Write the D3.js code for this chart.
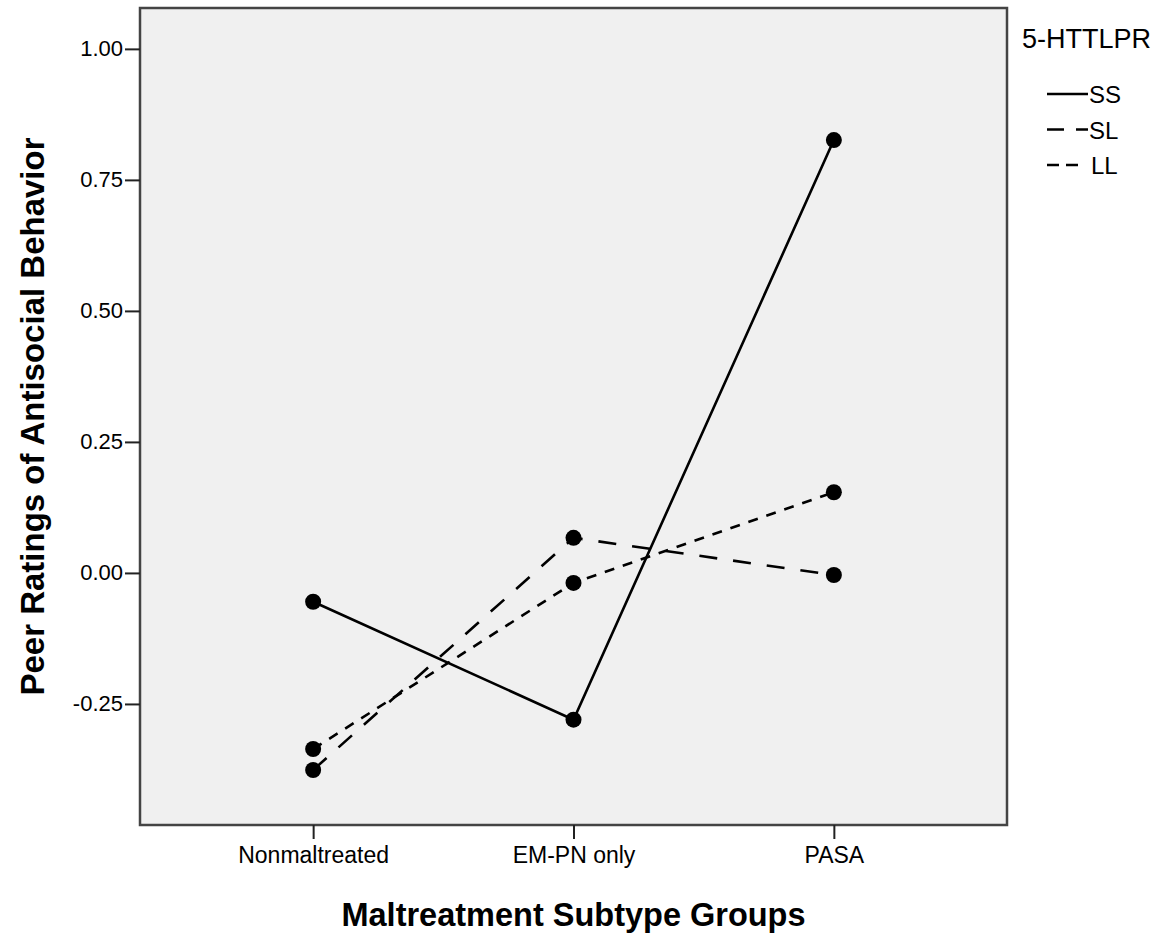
<!DOCTYPE html>
<html>
<head>
<meta charset="utf-8">
<script src="https://cdn.jsdelivr.net/npm/d3@7"></script>
<style>
  body { margin: 0; background: #fff; }
  text { font-family: "Liberation Sans", Arial, sans-serif; fill: #000; }
</style>
</head>
<body>
<svg id="chart"></svg>
<script>
const width = 1166;
const height = 935;

const groups = ['Nonmaltreated', 'EM-PN only', 'PASA'];
const ssValues = [-0.055, -0.28, 0.826];
const slValues = [-0.376, 0.067, -0.004];
const llValues = [-0.336, -0.019, 0.154];
const yTicks = [-0.25, 0.00, 0.25, 0.50, 0.75, 1.00];

const series = [
    { name: 'SS', values: ssValues, dash: null },
    { name: 'SL', values: slValues, dash: '18,16' },
    { name: 'LL', values: llValues, dash: '10,9' }
];

const box = { left: 140, right: 1007, top: 8, bottom: 825 };

const svg = d3.select('#chart')
    .attr('width', width)
    .attr('height', height);

const x = d3.scalePoint()
    .domain(groups)
    .range([box.left, box.right])
    .padding(0.665);

const y = d3.scaleLinear()
    .domain([-0.481, 1.078])
    .range([box.bottom, box.top]);

// plot area
svg.append('rect')
    .attr('x', box.left)
    .attr('y', box.top)
    .attr('width', box.right - box.left)
    .attr('height', box.bottom - box.top)
    .attr('fill', '#f0f0f0')
    .attr('stroke', '#444')
    .attr('stroke-width', 2.5);

// axes
const fmt = d => d3.format('.2f')(d).replace('\u2212', '-');
const yAxis = svg.append('g')
    .attr('transform', `translate(${box.left},0)`)
    .call(d3.axisLeft(y).tickValues(yTicks).tickSize(15).tickPadding(2).tickFormat(fmt));
yAxis.select('.domain').remove();
yAxis.selectAll('.tick line').attr('stroke', '#222').attr('stroke-width', 2);
yAxis.selectAll('.tick text').style('font-size', '22px').attr('fill', '#000');

const xAxis = svg.append('g')
    .attr('transform', `translate(0,${box.bottom})`)
    .call(d3.axisBottom(x).tickSize(14).tickPadding(8));
xAxis.select('.domain').remove();
xAxis.selectAll('.tick line').attr('stroke', '#222').attr('stroke-width', 2);
xAxis.selectAll('.tick text').style('font-size', '23px').attr('fill', '#000');

// titles
svg.append('text')
    .attr('x', (box.left + box.right) / 2)
    .attr('y', 926)
    .attr('text-anchor', 'middle')
    .style('font-size', '32.5px')
    .style('font-weight', 'bold')
    .text('Maltreatment Subtype Groups');

svg.append('text')
    .attr('transform', `translate(44,${(box.top + box.bottom) / 2}) rotate(-90)`)
    .attr('text-anchor', 'middle')
    .style('font-size', '33px')
    .style('font-weight', 'bold')
    .text('Peer Ratings of Antisocial Behavior');

// lines and markers
const line = d3.line()
    .x((d, i) => x(groups[i]))
    .y(d => y(d));

const lines = svg.append('g');
for (const s of series) {
    lines.append('path')
        .datum(s.values)
        .attr('d', line)
        .attr('fill', 'none')
        .attr('stroke', '#000')
        .attr('stroke-width', 2.6)
        .attr('stroke-dasharray', s.dash);
}
for (const s of series) {
    lines.selectAll(null)
        .data(s.values)
        .enter().append('circle')
        .attr('cx', (d, i) => x(groups[i]))
        .attr('cy', d => y(d))
        .attr('r', 8)
        .attr('fill', '#000');
}

// legend
const legend = svg.append('g');
legend.append('text')
    .attr('x', 1022)
    .attr('y', 48)
    .style('font-size', '27px')
    .text('5-HTTLPR');

const legendDash = { SS: null, SL: '17,12,12,10', LL: '12,7,12,20' };
series.forEach((s, i) => {
    const ly = 94 + i * 35.5;
    legend.append('line')
        .attr('x1', 1047)
        .attr('x2', 1088)
        .attr('y1', ly)
        .attr('y2', ly)
        .attr('stroke', '#000')
        .attr('stroke-width', 2.6)
        .attr('stroke-dasharray', legendDash[s.name]);
    legend.append('text')
        .attr('x', s.name === 'LL' ? 1091 : 1089)
        .attr('y', ly + 9)
        .style('font-size', '24px')
        .text(s.name);
});
</script>
</body>
</html>
